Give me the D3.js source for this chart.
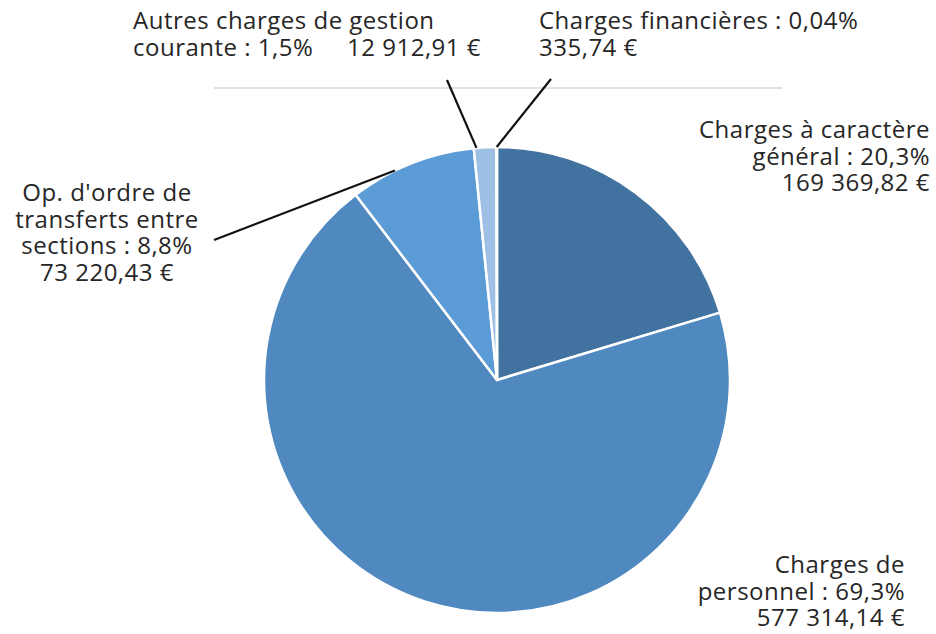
<!DOCTYPE html>
<html>
<head>
<meta charset="utf-8">
<script src="https://cdn.jsdelivr.net/npm/d3@7"></script>
<style>
  body { margin: 0; background: #fff; }
  svg text { font-family: "Open Sans", "Noto Sans", sans-serif; font-size: 24px; letter-spacing: 0.5px; fill: #262626; }
</style>
</head>
<body>
<div id="chart"></div>
<script>
// data
var categories = ["Charges à caractère général", "Charges de personnel", "Op. d'ordre de transferts entre sections", "Autres charges de gestion courante", "Charges financières"];
var amounts = [169369.82, 577314.14, 73220.43, 12912.91, 335.74];
var percentLabels = ["20,3%", "69,3%", "8,8%", "1,5%", "0,04%"];
var amountLabels = ["169 369,82 €", "577 314,14 €", "73 220,43 €", "12 912,91 €", "335,74 €"];
var colors = ["#42729f", "#4f89bf", "#5b9bd6", "#9fc0e5", "#9fc0e5"];

var W = 936, H = 634;
var cx = 497, cy = 380, r = 233;

var svg = d3.select("#chart").append("svg").attr("width", W).attr("height", H);

// light gray rule above the pie
svg.append("line").attr("x1", 214).attr("x2", 782).attr("y1", 88).attr("y2", 88)
  .attr("stroke", "#d9d9d9").attr("stroke-width", 1.5);

var _data = d3.pie().sort(null).value(function(d){ return d; })(amounts);
var arc = d3.arc().innerRadius(0).outerRadius(r);

var g = svg.append("g").attr("transform", "translate(" + cx + "," + cy + ")");
g.selectAll("path.slice").data(_data).enter().append("path").attr("class", "slice")
  .attr("d", arc)
  .attr("fill", function(d, i){ return colors[i]; })
  .attr("stroke", "#fff").attr("stroke-width", 2.5).attr("stroke-linejoin", "round");

// label layout: lines, anchor, leader start and where on the slice (0..1) it lands
var labels = [
  { lines: ["Charges à caractère", "général : " + percentLabels[0], amountLabels[0]], x: 930, y: 138, anchor: "end", lead: null },
  { lines: ["Charges de", "personnel : " + percentLabels[1], amountLabels[1]], x: 905, y: 573, anchor: "end", lead: null },
  { lines: ["Op. d'ordre de", "transferts entre", "sections : " + percentLabels[2], amountLabels[2]], x: 107, y: 201, anchor: "middle", lead: [214, 240], t: 0.36 },
  { lines: ["Autres charges de gestion", "courante : " + percentLabels[3]], x: 133, y: 29, anchor: "start", lead: [447, 80], t: 0.12, extra: { text: amountLabels[3], x: 481, anchor: "end" } },
  { lines: ["Charges financières : " + percentLabels[4], amountLabels[4]], x: 539, y: 29, anchor: "start", lead: [551, 79], t: 0.5 }
];

var lh = 26.5;
labels.forEach(function(l, i){
  var t = svg.append("text").attr("text-anchor", l.anchor);
  l.lines.forEach(function(s, k){
    t.append("tspan").attr("x", l.x).attr("y", l.y + k * lh).text(s);
  });
  if (l.extra) {
    svg.append("text").attr("text-anchor", l.extra.anchor)
      .attr("x", l.extra.x).attr("y", l.y + (l.lines.length - 1) * lh).text(l.extra.text);
  }
  if (l.lead) {
    var d = _data[i];
    var a = d.startAngle + (d.endAngle - d.startAngle) * l.t;
    var px = cx + r * Math.sin(a), py = cy - r * Math.cos(a);
    svg.append("line").attr("x1", l.lead[0]).attr("y1", l.lead[1]).attr("x2", px).attr("y2", py)
      .attr("stroke", "#111").attr("stroke-width", 2.2);
  }
});
</script>
</body>
</html>
